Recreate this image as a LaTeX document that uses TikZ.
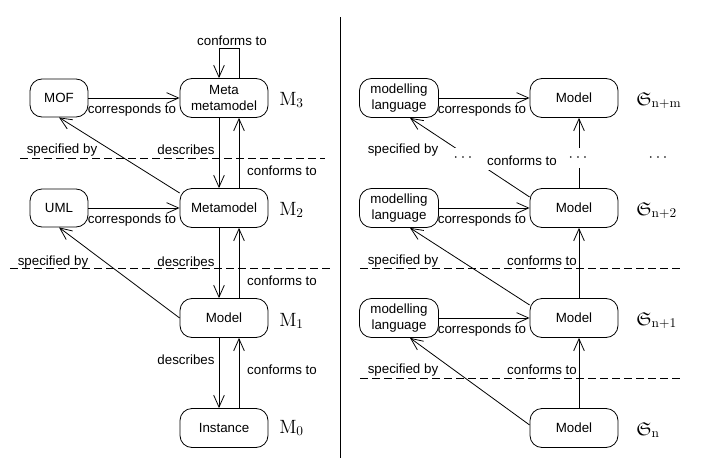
\documentclass[tikz,border=0pt]{standalone}
\usepackage[no-math]{fontspec}
\setmainfont{Liberation Sans}
\usepackage{amssymb}
\usetikzlibrary{arrows.meta,calc}
\begin{document}
\begin{tikzpicture}[x=0.75pt,y=-0.75pt,
  every node/.style={font=\fontsize{10}{12}\selectfont},
  box/.style={draw, line width=0.6pt, rounded corners=9pt, minimum width=66pt, minimum height=29.25pt, align=center, inner sep=0pt},
  smallbox/.style={box, minimum width=43.5pt, minimum height=28.5pt},
  langbox/.style={box, minimum width=59.25pt},
  arr/.style={line width=0.6pt, -{Straight Barb[length=9pt,width=8pt]}},
  plain/.style={line width=0.6pt},
  lbl/.style={inner sep=0pt},
  lvl/.style={inner sep=0pt, anchor=base west, font=\fontsize{14}{17}\selectfont},
  sepline/.style={line width=0.6pt, dash pattern=on 6pt off 3pt},
  gap/.style={fill=white, inner xsep=5pt, inner ysep=0pt, minimum height=15pt, font=\fontsize{12}{14}\selectfont},
  gaplbl/.style={fill=white, inner xsep=6pt, inner ysep=3pt}
]
\useasboundingbox (0,0) rectangle (707,471);

% ---------- left panel ----------
\node[smallbox] (mof) at (59,98) {MOF};
\node[box] (meta) at (224,98) {Meta\\metamodel};
\node[smallbox] (uml) at (59,208) {UML};
\node[box] (mm) at (224,208) {Metamodel};
\node[box] (mod) at (224,318) {Model};
\node[box] (inst) at (224,428) {Instance};

\node[lvl] (m3) at (279,105) {$\mathrm{M}_3$};
\node[lvl] (m2) at (279,215) {$\mathrm{M}_2$};
\node[lvl] (m1) at (279,326) {$\mathrm{M}_1$};
\node[lvl] (m0) at (279,433) {$\mathrm{M}_0$};

\draw[arr] (mof) -- (meta);
\node[lbl] (cA) at (132,110) {corresponds to};
\draw[arr] (uml) -- (mm);
\node[lbl] (cB) at (132,220) {corresponds to};

\draw[arr] ($(meta.north)+(15,0)$) -- ++(0,-30) -| ($(meta.north)+(-5,0)$);
\node[lbl] (cl) at (232,41) {conforms to};

\draw[arr] ($(meta.south)+(-5,0)$) -- ($(mm.north)+(-5,0)$);
\draw[arr] ($(mm.north)+(15,0)$) -- ($(meta.south)+(15,0)$);
\draw[arr] ($(mm.south)+(-5,0)$) -- ($(mod.north)+(-5,0)$);
\draw[arr] ($(mod.north)+(15,0)$) -- ($(mm.south)+(15,0)$);
\draw[arr] ($(mod.south)+(-5,0)$) -- ($(inst.north)+(-5,0)$);
\draw[arr] ($(inst.north)+(15,0)$) -- ($(mod.south)+(15,0)$);

\draw[arr] ($(mm.west)+(0,-15)$) -- (mof.south);
\draw[arr] (mod.west) -- (uml.south);

\node[lbl] (sA) at (62,150) {specified by};
\node[lbl] (dA) at (186,150) {describes};
\node[lbl] (kA) at (282,171) {conforms to};
\node[lbl] (sB) at (53,262) {specified by};
\node[lbl] (dB) at (186,262) {describes};
\node[lbl] (kB) at (282,281) {conforms to};
\node[lbl] (dC) at (186,360) {describes};
\node[lbl] (kC) at (282,370) {conforms to};

\draw[sepline] (20,158) -- (325,158);
\draw[sepline] (10,268) -- (330,268);

\draw[plain] (340,17) -- (340,458);

% ---------- right panel ----------
\node[langbox] (l3) at (399,98) {modelling\\language};
\node[box] (s3) at (574,98) {Model};
\node[langbox] (l2) at (399,208) {modelling\\language};
\node[box] (s2) at (574,208) {Model};
\node[langbox] (l1) at (399,318) {modelling\\language};
\node[box] (s1) at (574,318) {Model};
\node[box] (s0) at (574,428) {Model};

\node[lvl] (g3) at (636,105) {$\mathfrak{S}_{\mathrm{n+m}}$};
\node[lvl] (g2) at (636,215) {$\mathfrak{S}_{\mathrm{n+2}}$};
\node[lvl] (g1) at (636,325) {$\mathfrak{S}_{\mathrm{n+1}}$};
\node[lvl] (g0) at (636,435) {$\mathfrak{S}_{\mathrm{n}}$};

\draw[arr] (l3) -- (s3);
\node[lbl] (rc3) at (482,110) {corresponds to};
\draw[arr] (l2) -- (s2);
\node[lbl] (rc2) at (482,220) {corresponds to};
\draw[arr] (l1) -- (s1);
\node[lbl] (rc1) at (482,330) {corresponds to};

\draw[arr] ($(s2.north)+(5,0)$) -- ($(s3.south)+(5,0)$);
\draw[arr] ($(s1.north)+(5,0)$) -- ($(s2.south)+(5,0)$);
\draw[arr] ($(s0.north)+(5,0)$) -- ($(s1.south)+(5,0)$);

\draw[arr] ($(s2.west)+(0,-11)$) -- ($(l3.south)+(11,0)$);
\draw[arr] ($(s1.west)+(0,-13)$) -- ($(l2.south)+(11,0)$);
\draw[arr] ($(s0.west)+(0,-3)$) -- ($(l1.south)+(11,0)$);

\node[lbl] (rs3) at (403,150) {specified by};
\node[gaplbl] (rk3) at (522,161) {conforms to};
\node[gap] (dots1) at (463,158) {$\cdots$};
\node[gap] (dots2) at (578,158) {$\cdots$};
\node[gap] (dots3) at (658,158) {$\cdots$};

\node[lbl] (rs2) at (403,261) {specified by};
\node[lbl] (rk2) at (542,261) {conforms to};
\node[lbl] (rs1) at (403,370) {specified by};
\node[lbl] (rk1) at (542,370) {conforms to};

\draw[sepline] (360,268) -- (680,268);
\draw[sepline] (360,378) -- (680,378);
\end{tikzpicture}
\end{document}
